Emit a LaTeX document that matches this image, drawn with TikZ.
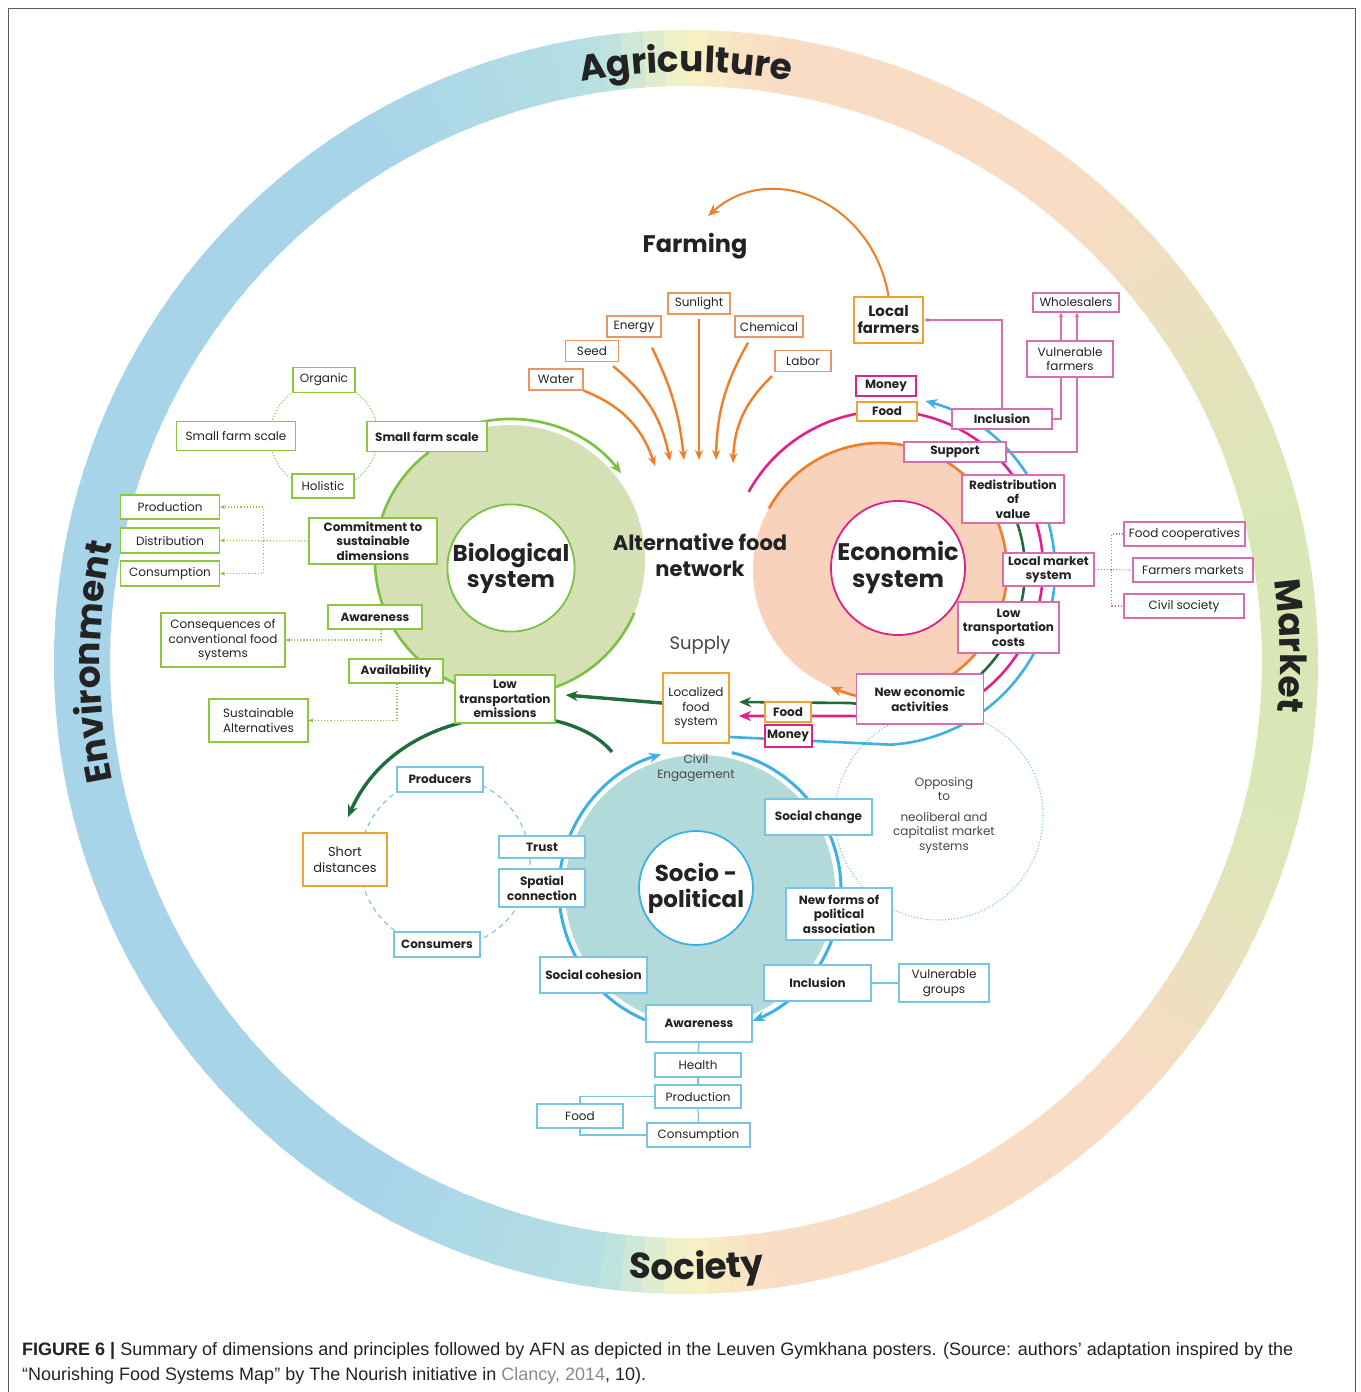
\documentclass[tikz,border=0pt]{standalone}
\usepackage{fontspec}
\setmainfont{Poppins}
\newfontfamily\capfont{Liberation Sans}
\usetikzlibrary{arrows.meta,decorations.text,calc}
\pgfdeclarelayer{bg}
\pgfdeclarelayer{mid}
\pgfsetlayers{bg,mid,main}
\definecolor{ringG}{RGB}{217,231,183}
\definecolor{ringP}{RGB}{249,220,196}
\definecolor{ringY}{RGB}{246,243,196}
\definecolor{ringC}{RGB}{182,224,226}
\definecolor{ringB}{RGB}{168,212,233}
\definecolor{txt}{RGB}{35,35,35}
\definecolor{txtg}{RGB}{70,70,70}
\definecolor{orA}{RGB}{240,125,40}
\definecolor{orBox}{RGB}{232,150,100}
\definecolor{goldc}{RGB}{240,164,48}
\definecolor{lgreen}{RGB}{124,194,66}
\definecolor{gboxc}{RGB}{141,198,63}
\definecolor{gdisk}{RGB}{214,224,181}
\definecolor{dgreen}{RGB}{29,110,58}
\definecolor{mag}{RGB}{224,33,138}
\definecolor{pboxc}{RGB}{214,110,175}
\definecolor{peachc}{RGB}{248,210,186}
\definecolor{bline}{RGB}{61,176,229}
\definecolor{bboxc}{RGB}{120,196,228}
\definecolor{tealc}{RGB}{179,218,219}
\definecolor{capgray}{RGB}{130,140,150}
\definecolor{framec}{RGB}{90,90,90}
\newcommand\fsR{\fontsize{12}{14.5}\selectfont}
\newcommand\fsB{\fontsize{12}{14.5}\selectfont\bfseries}
\newcommand\ringseg[4]{%
  \pgfmathtruncatemacro\nseg{(#2-#1)/2}%
  \foreach \i in {1,...,\nseg}{%
    \pgfmathsetmacro\angA{#1+(\i-1)*2}%
    \pgfmathsetmacro\angB{#1+\i*2+0.5}%
    \pgfmathtruncatemacro\ppct{100*(\i-0.5)/\nseg}%
    \fill[#4!\ppct!#3] (\angA:576) -- (\angA:632) arc[start angle=\angA,end angle=\angB,radius=632] -- (\angB:576) arc[start angle=\angB,end angle=\angA,radius=576] -- cycle;
  }}
\tikzset{
  bx/.style 2 args={minimum width=#1pt, minimum height=#2pt},
  basebox/.style={fill=white, align=center, inner sep=1pt, text=txt, line width=1.3pt},
  ib/.style={basebox, draw=orBox, font=\fsR},
  gb/.style={basebox, draw=gboxc, font=\fsR},
  gbb/.style={basebox, draw=gboxc, font=\fsB},
  pb/.style={basebox, draw=pboxc, line width=1.2pt, font=\fsB},
  pbr/.style={basebox, draw=pboxc, line width=1.2pt, font=\fsR},
  blb/.style={basebox, draw=bboxc, font=\fsB},
  blr/.style={basebox, draw=bboxc, font=\fsR},
  goldbox/.style={basebox, draw=goldc, line width=2pt},
  magbox/.style={basebox, draw=mag, line width=2pt, font=\fsB},
  oarr/.style={orA, line width=2.4pt, -{Stealth[length=10pt,width=8pt]}},
  bigtip/.style={-{Stealth[length=12pt,width=10pt]}},
  gdot/.style={gboxc, line width=1.1pt, dotted},
  pdot/.style={pboxc, line width=1.1pt, dotted},
  pk/.style={pboxc, line width=1.1pt},
  smtip/.style={-{Stealth[length=5pt,width=4.5pt]}},
  bl/.style={bboxc, line width=1.2pt},
  bigc/.style={circle, fill=white, line width=1.8pt, align=center, text=txt, font=\bfseries\fontsize{23}{26}\selectfont, inner sep=0pt},
  ringtxt/.style={decorate, decoration={text along path, text align=center, text color=txt, text={|\bfseries\fontsize{36}{36}\selectfont|#1}}}
}
\begin{document}
\begin{tikzpicture}[x=1pt,y=1pt]
\useasboundingbox (0,0) rectangle (1360,-1392);
\begin{pgfonlayer}{bg}
\fill[white] (0,0) rectangle (1360,-1392);
\draw[framec, line width=1.2pt] (8.5,-8.5) rectangle (1355.5,-1396);
\begin{scope}[shift={(686,-662)}]
\ringseg{0}{14}{ringG}{ringG}
\ringseg{14}{50}{ringG}{ringP}
\ringseg{50}{82}{ringP}{ringP}
\ringseg{82}{90}{ringP}{ringY}
\ringseg{90}{98}{ringY}{ringC}
\ringseg{98}{120}{ringC}{ringB}
\ringseg{120}{240}{ringB}{ringB}
\ringseg{240}{262}{ringB}{ringC}
\ringseg{262}{270}{ringC}{ringY}
\ringseg{270}{278}{ringY}{ringP}
\ringseg{278}{316}{ringP}{ringP}
\ringseg{316}{346}{ringP}{ringG}
\ringseg{346}{360}{ringG}{ringG}
\path[ringtxt={Agriculture}] (106:590) arc[start angle=106,end angle=74,radius=590];
\path[ringtxt={Environment}] (200:586) arc[start angle=200,end angle=160,radius=586];
\path[ringtxt={Market}] (16.5:594) arc[start angle=16.5,end angle=-13.5,radius=594];
\path[ringtxt={Society}] (256:618) arc[start angle=256,end angle=286,radius=618];
\end{scope}
% disks
\fill[gdisk] (510,-560) circle[radius=135];
\fill[peachc] (880,-570) circle[radius=127];
\fill[tealc] (700,-890) circle[radius=135];
% dotted / dashed circles
\draw[gdot] (324,-436) circle[radius=54];
\draw[bboxc, line width=1.1pt, dashed, dash pattern=on 5pt off 4pt] (445,-862) circle[radius=85];
\draw[bboxc, line width=1.1pt, dotted] (939,-816) circle[radius=104];
% biological arcs
\draw[lgreen, line width=2.6pt] ($(510,-560)+(127:135)$) arc[start angle=127,end angle=255,radius=135];
\draw[lgreen, line width=2.6pt] ($(510,-560)+(289:135)$) arc[start angle=289,end angle=337,radius=135];
\draw[lgreen, line width=2.6pt, bigtip] ($(510,-560)+(105:141)$) arc[start angle=105,end angle=38,radius=141];
% economic arcs
\draw[orA, line width=2.6pt, bigtip] ($(880,-570)+(151:127)$) arc[start angle=151,end angle=-113,radius=127];
% socio arcs
\draw[bline, line width=3pt, bigtip] ($(700,-890)+(247:141)$) arc[start angle=247,end angle=106,radius=141];
\draw[bline, line width=3pt, bigtip] ($(700,-890)+(77:141)$) arc[start angle=77,end angle=-68,radius=141];
\end{pgfonlayer}

% ===== nodes =====
\node[font=\bfseries\fontsize{24}{28}\selectfont, text=txt] (farming) at (695,-246) {Farming};
\node[ib,bx={62}{21}] (sun) at (699,-303.5) {Sunlight};
\node[ib,bx={54}{21}] (energy) at (634,-326.5) {Energy};
\node[ib,bx={68}{21}] (chem) at (769,-326.5) {Chemical};
\node[ib,bx={53}{21}] (seed) at (592,-351) {Seed};
\node[ib,bx={54}{21}] (water) at (556,-379.5) {Water};
\node[ib,bx={56}{21}] (labor) at (803,-361) {Labor};
\coordinate (e1) at (655,-466);
\coordinate (e2) at (670,-461);
\coordinate (e3) at (684,-460);
\coordinate (e4) at (699,-460);
\coordinate (e5) at (716,-460);
\coordinate (e6) at (733,-463);
\coordinate (farmtip) at (708,-216);
\coordinate (dgs) at (612,-752);

% biological
\node[bigc, draw=lgreen, minimum size=124pt] (bio) at (511,-568) {Biological\\system};
\node[gbb,bx={120}{30}] (bsfs) at (427,-436.5) {Small farm scale};
\node[gb,bx={62}{25}] (org) at (324,-380) {Organic};
\node[gb,bx={119}{29}] (sfs) at (236,-436) {Small farm scale};
\node[gb,bx={62}{24}] (hol) at (323,-486) {Holistic};
\node[gbb,bx={128}{46}] (commit) at (373,-541) {Commitment to\\sustainable\\dimensions};
\node[gb,bx={99}{24}] (prod) at (170,-507) {Production};
\node[gb,bx={99}{25}] (distr) at (170,-540.5) {Distribution};
\node[gb,bx={99}{25}] (cons) at (170,-573.5) {Consumption};
\node[gbb,bx={94}{24}] (aw) at (375,-617) {Awareness};
\node[gb,bx={124}{54}] (conseq) at (223,-640) {Consequences of\\conventional food\\systems};
\node[gbb,bx={94}{24}] (avail) at (396,-671) {Availability};
\node[gb,bx={99}{43}] (sust) at (258.5,-720.5) {Sustainable\\Alternatives};
\node[gbb,bx={100}{48}] (lte) at (505,-699) {Low\\transportation\\emissions};

% centre
\node[font=\bfseries\fontsize{21}{26}\selectfont, text=txt, align=center] (afn) at (700,-555) {Alternative food\\network};
\node[font=\fontsize{18}{20}\selectfont, text=txtg] (supply) at (700,-645) {Supply};
\node[goldbox,bx={66}{70}, font=\fsR] (loc) at (696,-708) {Localized\\food\\system};
\node[font=\fsR, text=txtg, align=center] (civil) at (696,-768) {Civil\\Engagement};
\node[goldbox,bx={46}{20}, font=\fsB] (food1) at (788,-712) {Food};
\node[magbox,bx={47}{22}] (money1) at (788,-736) {Money};

% economic
\node[bigc, draw=mag, minimum size=134pt, font=\bfseries\fontsize{24}{27}\selectfont] (econ) at (898,-568) {Economic\\system};
\node[goldbox,bx={69}{46}, font=\bfseries\fontsize{15}{17}\selectfont] (lf) at (888.5,-320) {Local\\farmers};
\node[pbr,bx={86}{19}] (whole) at (1076,-302.5) {Wholesalers};
\node[pbr,bx={86}{36}] (vf) at (1070,-359) {Vulnerable\\farmers};
\node[magbox,bx={60}{20}] (money2) at (886,-386) {Money};
\node[goldbox,bx={60}{19}, font=\fsB] (food2) at (887,-411.5) {Food};
\node[pb,bx={100}{20}] (incl) at (1002,-419) {Inclusion};
\node[pb,bx={102}{20}] (supp) at (955,-452) {Support};
\node[pb,bx={102}{48}] (redis) at (1013,-499) {Redistribution\\of\\value};
\node[pb,bx={91}{33}] (lms) at (1048.5,-569.5) {Local market\\system};
\node[pb,bx={101}{51}] (ltc) at (1008.5,-627.5) {Low\\transportation\\costs};
\node[pb,bx={127}{50}] (nea) at (920,-699) {New economic\\activities};
\node[pbr,bx={121}{24}] (fc) at (1184.5,-534) {Food cooperatives};
\node[pbr,bx={120}{24}] (fm) at (1193,-570) {Farmers markets};
\node[pbr,bx={120}{24}] (cs) at (1184,-606) {Civil society};

% socio-political
\node[bigc, draw=bline, minimum size=114pt] (socio) at (696,-888) {Socio -\\political};
\node[blb,bx={107}{36}] (sc) at (818.5,-817) {Social change};
\node[blb,bx={106}{52}] (nfpa) at (839,-914) {New forms of\\political\\association};
\node[blb,bx={86}{22}] (trust) at (542,-847) {Trust};
\node[blb,bx={86}{38}] (spat) at (542,-888) {Spatial\\connection};
\node[blb,bx={86}{25}] (prodc) at (440,-779.5) {Producers};
\node[blb,bx={86}{25}] (consc) at (437,-944.5) {Consumers};
\node[goldbox,bx={84}{53}, font=\fontsize{13}{15.5}\selectfont] (short) at (345,-859.5) {Short\\distances};
\node[blb,bx={107}{36}] (scoh) at (593.5,-975) {Social cohesion};
\node[blb,bx={107}{36}] (incl2) at (817.5,-983) {Inclusion};
\node[blr,bx={90}{38}] (vg) at (944,-983) {Vulnerable\\groups};
\node[blb,bx={106}{37}] (aw2) at (699,-1023.5) {Awareness};
\node[blr,bx={86}{24}] (health) at (698,-1065) {Health};
\node[blr,bx={86}{23}] (prodn) at (698,-1096.5) {Production};
\node[blr,bx={86}{24}] (foodn) at (580,-1116) {Food};
\node[blr,bx={103}{24}] (consn) at (698.5,-1135) {Consumption};
\node[font=\fsR, text=txtg, align=center] (opp) at (944,-815) {Opposing\\to\\[6pt]neoliberal and\\capitalist market\\systems};

% caption
\node[anchor=base west, inner sep=0pt, text=txt, font=\capfont\fontsize{18}{22}\selectfont] (cap1) at (22,-1355) {\textbf{FIGURE 6 |} Summary of dimensions and principles followed by AFN as depicted in the Leuven Gymkhana posters. (Source: authors’ adaptation inspired by the};
\node[anchor=base west, inner sep=0pt, text=txt, font=\capfont\fontsize{18}{22}\selectfont] (cap2) at (22,-1380) {“Nourishing Food Systems Map” by The Nourish initiative in {\color{capgray}Clancy, 2014}, 10).};

% ===== connectors =====
\begin{pgfonlayer}{mid}
\draw[orA, line width=2pt, bigtip] (lf.north) .. controls (872,-200) and (770,-160) .. (farmtip);
\draw[oarr] (water.south east) to[bend left=25] (e1);
\draw[oarr] ($(seed.south)+(21,-4)$) to[bend left=20] (e2);
\draw[oarr] ($(energy.south)+(18,-10)$) to[bend left=10] (e3);
\draw[oarr] ($(sun.south)+(0,-4)$) -- (e4);
\draw[oarr] ($(chem.south)+(-21,-5)$) to[bend right=14] (e5);
\draw[oarr] ($(labor.south)+(-31,-4)$) to[bend right=22] (e6);
% green dotted
\draw[gdot, smtip] (commit.west) -- (distr.east);
\draw[gdot, smtip] ($(commit.west)+(-45,0)$) |- (prod.east);
\draw[gdot, smtip] ($(commit.west)+(-45,0)$) |- (cons.east);
\draw[gdot, smtip] ([xshift=6pt]aw.south) |- (conseq.east);
\draw[gdot, smtip] ([xshift=1pt]avail.south) |- (sust.east);
% dark green
\draw[dgreen, line width=3.4pt, bigtip] ([yshift=5pt]loc.west) -- ([xshift=10pt,yshift=4pt]lte.east);
\draw[dgreen, line width=3.4pt, bigtip] (dgs) .. controls (565,-695) and (400,-700) .. ($(short.north)+(3,15)$);
% economic coloured flows
\draw[dgreen, line width=2.6pt, bigtip] ($(880,-570)+(28:145)$) arc[start angle=28,end angle=-75,radius=145] -- (850,-703) -- ([xshift=9pt,yshift=6pt]loc.east);
\draw[mag, line width=2.6pt, bigtip] ($(886,-568)+(151:157)$) arc[start angle=151,end angle=-72,radius=157] -- (850,-716) -- ([xshift=9pt,yshift=-8pt]loc.east);
\draw[bline, line width=2.6pt, bigtip] ([yshift=-29pt]loc.east) -- ($(880,-570)+(-86.5:175)$) arc[start angle=-86.5,end angle=75,radius=175];
% pink connectors
\draw[pk, smtip] (incl.north) |- (lf.east);
\draw[pk] (incl.east) -| ([xshift=-9pt]vf.south);
\draw[pk] (supp.east) -| ([xshift=7pt]vf.south);
\draw[pk, smtip] ([xshift=-9pt]vf.north) -- ([xshift=-15pt]whole.south);
\draw[pk, smtip] ([xshift=7pt]vf.north) -- ([xshift=1pt]whole.south);
\coordinate (lmsj) at ($(lms.east)+(17,0)$);
\draw[pdot] (lms.east) -- (fm.west);
\draw[pdot] (fc.west) -| (lmsj) |- (cs.west);
% blue connectors
\draw[bl] (aw2.south) -- (health.north);
\draw[bl] (health.south) -- (prodn.north);
\draw[bl] (prodn.south) -- (consn.north);
\draw[bl] (prodn.west) -| (foodn.north);
\draw[bl] (foodn.south) |- (consn.west);
\draw[bl] (incl2.east) -- (vg.west);
\end{pgfonlayer}
\end{tikzpicture}
\end{document}
